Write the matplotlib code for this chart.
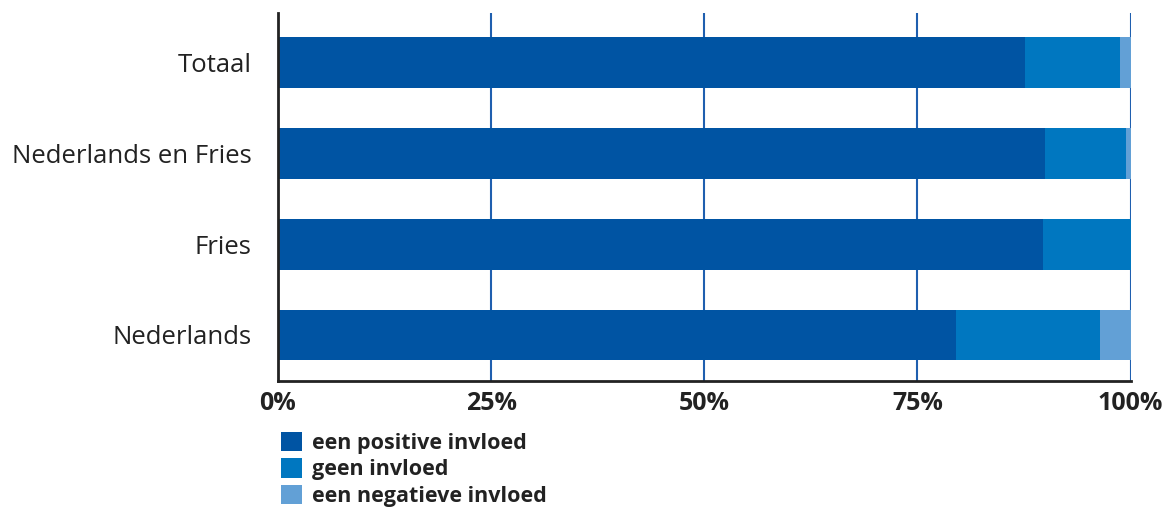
import matplotlib.pyplot as plt
import numpy as np

# data
categories = ['Nederlands', 'Fries', 'Nederlands en Fries', 'Totaal']
positief = [79.5, 89.7, 90.0, 87.6]
geen = [16.9, 10.3, 9.4, 11.2]
negatief = [3.6, 0.0, 0.6, 1.2]
series_names = ['een positive invloed', 'geen invloed', 'een negatieve invloed']
ticks = [0, 25, 50, 75, 100]
tick_labels = ['0%', '25%', '50%', '75%', '100%']

colors = ['#0054A3', '#0077C0', '#62A0D6']

plt.rcParams['font.family'] = ['Open Sans', 'DejaVu Sans']

fig = plt.figure(figsize=(11.68, 5.09), dpi=100)
ax = fig.add_axes([0.238, 0.2515, 0.730, 0.7225])

y = np.arange(len(categories))
left = np.zeros(len(categories))
for vals, col, name in zip([positief, geen, negatief], colors, series_names):
    ax.barh(y, vals, left=left, height=0.56, color=col, label=name, zorder=2)
    left = left + np.array(vals)

ax.set_xlim(0, 100)
ax.set_ylim(-0.507, 3.545)
ax.set_yticks(y)
ax.set_yticklabels(categories, fontsize=18.5, color='#222222')
ax.set_xticks(ticks)
ax.set_xticklabels(tick_labels, fontsize=18, fontweight='bold', color='#222222')
ax.tick_params(axis='both', length=0)
ax.tick_params(axis='y', pad=19)
ax.tick_params(axis='x', pad=7)

for t in ticks[1:]:
    ax.axvline(t, color='#1F5FAF', linewidth=1.5, zorder=1)

for s in ['top', 'right']:
    ax.spines[s].set_visible(False)
ax.spines['left'].set_linewidth(2)
ax.spines['bottom'].set_linewidth(2)
ax.spines['left'].set_color('#222222')
ax.spines['bottom'].set_color('#222222')

fig.legend(loc='upper left', bbox_to_anchor=(0.2405, 0.151), frameon=False,
           prop={'weight': 'bold', 'size': 15.5}, handlelength=1.0, handleheight=1.0,
           labelspacing=0.2, handletextpad=0.45, borderpad=0, borderaxespad=0,
           labelcolor='#222222')

fig.savefig('out.png', dpi=100)
